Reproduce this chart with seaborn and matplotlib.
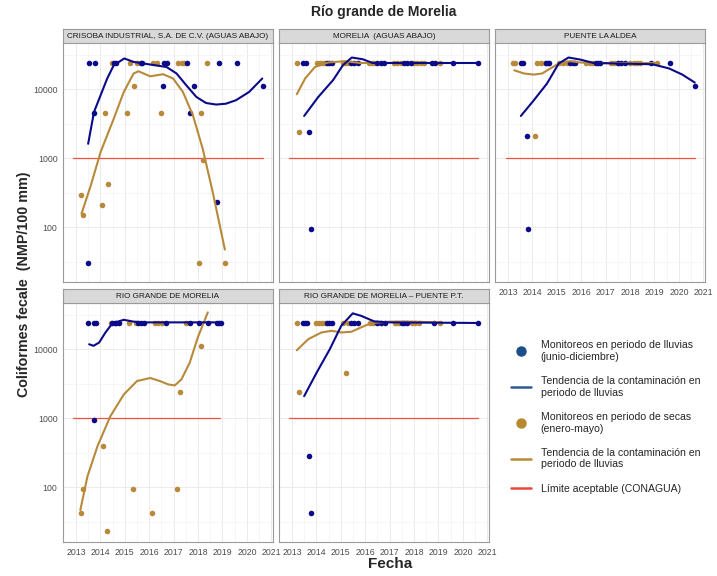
import matplotlib.pyplot as plt
import seaborn as sns
from matplotlib.lines import Line2D
from matplotlib.ticker import FixedLocator, NullFormatter

# station names (facet strips)
estaciones = [
    "CRISOBA INDUSTRIAL, S.A. DE C.V. (AGUAS ABAJO)",
    "MORELIA  (AGUAS ABAJO)",
    "PUENTE LA ALDEA",
    "RIO GRANDE DE MORELIA",
    "RIO GRANDE DE MORELIA – PUENTE P.T.",
]

# --- CRISOBA ---
crisoba_lluvias_fecha = [2013.50, 2013.54, 2013.72, 2013.78, 2014.55, 2014.62, 2015.65, 2015.72,
                         2016.57, 2016.62, 2016.73, 2017.55, 2017.66, 2017.82, 2018.78, 2018.87,
                         2019.61, 2020.65]
crisoba_lluvias_valor = [30, 24000, 4600, 24000, 24000, 24000, 24000, 24000,
                         11000, 24000, 24000, 24000, 4600, 11000, 230, 24000,
                         24000, 11000]
crisoba_secas_fecha = [2013.20, 2013.28, 2014.08, 2014.17, 2014.32, 2014.46, 2015.09, 2015.20,
                       2015.36, 2015.52, 2016.17, 2016.30, 2016.48, 2017.18, 2017.33, 2017.41,
                       2018.03, 2018.13, 2018.22, 2018.37, 2019.10]
crisoba_secas_valor = [290, 150, 210, 4600, 430, 24000, 4600, 24000,
                       11000, 24000, 24000, 24000, 4600, 24000, 24000, 24000,
                       30, 4600, 930, 24000, 30]
crisoba_tend_lluvias_fecha = [2013.50, 2013.74, 2014.01, 2014.28, 2014.55, 2014.98, 2015.36, 2016.04,
                              2016.71, 2017.12, 2017.52, 2017.93, 2018.33, 2018.74, 2019.14, 2019.55,
                              2020.09, 2020.63]
crisoba_tend_lluvias_valor = [1620, 4680, 8180, 14300, 22300, 27900, 24900, 22800,
                              21000, 16900, 11400, 7740, 6310, 6000, 6170, 6920,
                              9120, 14300]
crisoba_tend_secas_fecha = [2013.23, 2013.61, 2014.01, 2014.55, 2014.96, 2015.36, 2015.56, 2016.04,
                            2016.57, 2016.98, 2017.38, 2017.79, 2018.19, 2018.60, 2019.10]
crisoba_tend_secas_valor = [158, 406, 1230, 3760, 9140, 16900, 18200, 15400,
                            16500, 14300, 9140, 4200, 1380, 325, 47.5]

# --- MORELIA (AGUAS ABAJO) ---
morelia_lluvias_fecha = [2013.47, 2013.56, 2013.70, 2013.77, 2014.42, 2014.51, 2014.62, 2015.43,
                         2015.56, 2015.70, 2016.50, 2016.63, 2016.77, 2017.59, 2017.72, 2017.86,
                         2018.73, 2018.86, 2019.61, 2020.62]
morelia_lluvias_valor = [24000, 24000, 2400, 93, 24000, 24000, 24000, 24000,
                         24000, 24000, 24000, 24000, 24000, 24000, 24000, 24000,
                         24000, 24000, 24000, 24000]
morelia_secas_fecha = [2013.20, 2013.27, 2014.01, 2014.15, 2014.28, 2014.35, 2015.09, 2015.18,
                       2015.29, 2016.17, 2016.26, 2016.36, 2017.18, 2017.31, 2017.45, 2017.99,
                       2018.13, 2018.27, 2018.40, 2019.07]
morelia_secas_valor = [24000, 2400, 24000, 24000, 24000, 24000, 24000, 24000,
                       24000, 24000, 24000, 24000, 24000, 24000, 24000, 24000,
                       24000, 24000, 24000, 24000]
morelia_tend_lluvias_fecha = [2013.50, 2014.08, 2014.68, 2015.09, 2015.45, 2015.90, 2016.30, 2017.50,
                              2019.00, 2020.62]
morelia_tend_lluvias_valor = [4100, 7740, 13500, 22300, 28800, 27200, 24000, 24000, 24000, 24000]
morelia_tend_secas_fecha = [2013.20, 2013.54, 2013.94, 2014.48, 2015.16, 2015.80, 2019.07]
morelia_tend_secas_valor = [8470, 14300, 21000, 24400, 25500, 24000, 24000]

# --- PUENTE LA ALDEA ---
aldea_lluvias_fecha = [2013.53, 2013.60, 2013.76, 2013.82, 2014.54, 2014.62, 2014.70, 2015.55,
                       2015.65, 2015.75, 2016.60, 2016.68, 2016.75, 2017.50, 2017.65, 2017.80,
                       2018.85, 2019.64, 2020.68]
aldea_lluvias_valor = [24000, 24000, 2100, 93, 24000, 24000, 24000, 24000,
                       24000, 24000, 24000, 24000, 24000, 24000, 24000, 24000,
                       24000, 24000, 11000]
aldea_secas_fecha = [2013.20, 2013.30, 2014.10, 2014.20, 2014.35, 2014.50, 2015.10, 2015.25,
                     2015.40, 2016.20, 2016.35, 2016.50, 2017.20, 2017.35, 2017.50, 2018.00,
                     2018.15, 2018.30, 2018.40, 2019.10]
aldea_secas_valor = [24000, 24000, 2100, 24000, 24000, 24000, 24000, 24000,
                     24000, 24000, 24000, 24000, 24000, 24000, 24000, 24000,
                     24000, 24000, 24000, 24000]
aldea_tend_lluvias_fecha = [2013.53, 2014.06, 2014.60, 2015.08, 2015.48, 2015.96, 2016.50, 2018.92,
                            2019.60, 2020.14, 2020.65]
aldea_tend_lluvias_valor = [4100, 6920, 12100, 23600, 28800, 26900, 24000, 23000,
                            20000, 16300, 12500]
aldea_tend_secas_fecha = [2013.26, 2013.66, 2014.06, 2014.40, 2014.74, 2015.15, 2015.55, 2015.96,
                          2016.50, 2019.10]
aldea_tend_secas_valor = [18800, 16900, 16300, 16900, 20000, 24400, 25500, 24400, 24000, 24000]

# --- RIO GRANDE DE MORELIA ---
rio_lluvias_fecha = [2013.51, 2013.72, 2013.74, 2013.82, 2014.49, 2014.58, 2014.66, 2014.75,
                     2015.56, 2015.65, 2015.77, 2016.68, 2017.68, 2018.05, 2018.39, 2018.79,
                     2018.86, 2018.94]
rio_lluvias_valor = [24000, 930, 24000, 24000, 24000, 24000, 24000, 24000,
                     24000, 24000, 24000, 24000, 24000, 24000, 24000, 24000,
                     24000, 24000]
rio_secas_fecha = [2013.20, 2013.27, 2014.10, 2014.28, 2014.42, 2015.16, 2015.32, 2015.47,
                   2016.10, 2016.24, 2016.38, 2016.51, 2017.12, 2017.25, 2017.49, 2018.13]
rio_secas_valor = [43, 93, 390, 23, 24000, 24000, 93, 24000,
                   43, 24000, 24000, 24000, 93, 2400, 24000, 11000]
rio_tend_lluvias_fecha = [2013.54, 2013.72, 2013.95, 2014.21, 2014.49, 2014.96, 2015.36, 2015.77,
                          2018.94]
rio_tend_lluvias_valor = [11800, 11200, 12500, 17500, 23700, 26700, 25100, 24500, 24500]
rio_tend_secas_fecha = [2013.18, 2013.47, 2013.88, 2014.41, 2014.96, 2015.50, 2016.04, 2016.44,
                        2016.78, 2017.05, 2017.32, 2017.66, 2017.99, 2018.40]
rio_tend_secas_valor = [46.9, 143, 392, 1070, 2210, 3460, 3830, 3460,
                        3090, 2990, 3660, 6400, 14800, 34200]

# --- RIO GRANDE DE MORELIA - PUENTE P.T. ---
ptt_lluvias_fecha = [2013.47, 2013.55, 2013.60, 2013.70, 2013.77, 2014.42, 2014.52, 2014.62,
                     2015.43, 2015.55, 2015.70, 2016.50, 2016.65, 2016.80, 2017.50, 2017.60,
                     2017.70, 2018.80, 2019.60, 2020.62]
ptt_lluvias_valor = [24000, 24000, 24000, 280, 43, 24000, 24000, 24000,
                     24000, 24000, 24000, 24000, 24000, 24000, 24000, 24000,
                     24000, 24000, 24000, 24000]
ptt_secas_fecha = [2013.20, 2013.27, 2014.00, 2014.12, 2014.24, 2014.35, 2015.09, 2015.20,
                   2015.30, 2016.20, 2016.30, 2017.20, 2017.30, 2017.40, 2017.90, 2018.05,
                   2018.20, 2019.07]
ptt_secas_valor = [24000, 2400, 24000, 24000, 24000, 24000, 24000, 4600,
                   24000, 24000, 24000, 24000, 24000, 24000, 24000, 24000,
                   24000, 24000]
ptt_tend_lluvias_fecha = [2013.50, 2014.01, 2014.55, 2015.02, 2015.49, 2015.83, 2016.37, 2016.98,
                          2020.62]
ptt_tend_lluvias_valor = [2090, 4570, 10000, 21900, 33100, 30500, 25300, 24500, 24000]
ptt_tend_secas_fecha = [2013.20, 2013.67, 2014.21, 2014.62, 2015.02, 2015.43, 2015.83, 2016.24,
                        2016.98, 2017.90, 2019.07]
ptt_tend_secas_valor = [9660, 14000, 17500, 18500, 17500, 17900, 20700, 23900,
                        25100, 25100, 24500]

# CONAGUA limit and its span per station
limite = 1000
limite_inicio = [2012.88, 2012.86, 2012.92, 2012.87, 2012.86]
limite_fin = [2020.64, 2020.62, 2020.68, 2018.90, 2020.62]

anios = list(range(2013, 2022))

AZUL = "#0B0B8A"
CAFE = "#B8893A"
ROJO = "#F0503F"
BORDE = "#9A9A9A"

sns.set_style("white")
plt.rcParams["font.family"] = ["Liberation Sans", "DejaVu Sans"]

fig = plt.figure(figsize=(7.17, 5.76), dpi=100)
W, H = 717, 576

# panel positions in pixels: (left, top of plot area)
cols = [63, 279, 495]
rows = [42.5, 302.5]
pw, ph, sh = 210, 239.5, 14

paneles = [
    (crisoba_lluvias_fecha, crisoba_lluvias_valor, crisoba_secas_fecha, crisoba_secas_valor,
     crisoba_tend_lluvias_fecha, crisoba_tend_lluvias_valor, crisoba_tend_secas_fecha, crisoba_tend_secas_valor),
    (morelia_lluvias_fecha, morelia_lluvias_valor, morelia_secas_fecha, morelia_secas_valor,
     morelia_tend_lluvias_fecha, morelia_tend_lluvias_valor, morelia_tend_secas_fecha, morelia_tend_secas_valor),
    (aldea_lluvias_fecha, aldea_lluvias_valor, aldea_secas_fecha, aldea_secas_valor,
     aldea_tend_lluvias_fecha, aldea_tend_lluvias_valor, aldea_tend_secas_fecha, aldea_tend_secas_valor),
    (rio_lluvias_fecha, rio_lluvias_valor, rio_secas_fecha, rio_secas_valor,
     rio_tend_lluvias_fecha, rio_tend_lluvias_valor, rio_tend_secas_fecha, rio_tend_secas_valor),
    (ptt_lluvias_fecha, ptt_lluvias_valor, ptt_secas_fecha, ptt_secas_valor,
     ptt_tend_lluvias_fecha, ptt_tend_lluvias_valor, ptt_tend_secas_fecha, ptt_tend_secas_valor),
]

for i, (nombre, datos) in enumerate(zip(estaciones, paneles)):
    r, c = divmod(i, 3)
    x0, y0 = cols[c], rows[r]
    ax = fig.add_axes([x0 / W, 1 - (y0 + ph) / H, pw / W, ph / H])
    ll_f, ll_v, se_f, se_v, tl_f, tl_v, ts_f, ts_v = datos

    sns.lineplot(x=[limite_inicio[i], limite_fin[i]], y=[limite, limite], color=ROJO,
                 lw=0.9, ax=ax, estimator=None)
    sns.scatterplot(x=se_f, y=se_v, color=CAFE, s=16, linewidth=0, ax=ax, zorder=3)
    sns.scatterplot(x=ll_f, y=ll_v, color=AZUL, s=16, linewidth=0, ax=ax, zorder=3)
    sns.lineplot(x=ts_f, y=ts_v, color=CAFE, lw=1.5, ax=ax, estimator=None, zorder=4)
    sns.lineplot(x=tl_f, y=tl_v, color=AZUL, lw=1.5, ax=ax, estimator=None, zorder=4)

    ax.set_yscale("log")
    ax.set_ylim(10 ** 1.207, 10 ** 4.677)
    ax.set_xlim(2012.47, 2021.07)
    ax.set_yticks([100, 1000, 10000])
    ax.set_yticklabels(["100", "1000", "10000"])
    ax.yaxis.set_minor_locator(FixedLocator([10 ** 1.5, 10 ** 2.5, 10 ** 3.5, 10 ** 4.5]))
    ax.yaxis.set_minor_formatter(NullFormatter())
    ax.set_xticks(anios)
    ax.set_xticklabels([str(a) for a in anios])
    ax.xaxis.set_minor_locator(FixedLocator([a + 0.5 for a in anios[:-1]]))
    ax.set_xlabel("")
    ax.set_ylabel("")
    ax.set_axisbelow(True)
    ax.grid(which="major", color="#EBEBEB", lw=0.7)
    ax.grid(which="minor", color="#F3F3F3", lw=0.5)
    for s in ax.spines.values():
        s.set_color(BORDE)
        s.set_linewidth(0.8)
    ax.tick_params(which="major", length=2.5, width=0.5, color="#555555",
                   labelsize=6.3, labelcolor="#4D4D4D", pad=1.5)
    ax.tick_params(which="minor", length=0)
    if c != 0:
        ax.tick_params(axis="y", which="major", length=0, labelleft=False)
    if r == 0 and c != 2:
        ax.tick_params(axis="x", which="major", length=0, labelbottom=False)

    # facet strip
    st = fig.add_axes([x0 / W, 1 - y0 / H, pw / W, sh / H])
    st.set_facecolor("#D9D9D9")
    st.set_xticks([])
    st.set_yticks([])
    for s in st.spines.values():
        s.set_color(BORDE)
        s.set_linewidth(0.8)
    st.text(0.5, 0.45, nombre, ha="center", va="center", fontsize=5.9, color="#1A1A1A",
            transform=st.transAxes)

fig.text(384 / W, 1 - 12 / H, "Río grande de Morelia", ha="center", va="center",
         fontsize=10, fontweight="bold")
fig.text(390 / W, 1 - 564 / H, "Fecha", ha="center", va="center",
         fontsize=11, fontweight="bold")
fig.text(24 / W, 1 - 284 / H, "Coliformes fecale  (NMP/100 mm)", ha="center", va="center",
         rotation=90, fontsize=10.3, fontweight="bold")

handles = [
    Line2D([], [], ls="none", marker="o", ms=6.5, color="#1D4E89"),
    Line2D([], [], color="#2F5A96", lw=1.8),
    Line2D([], [], ls="none", marker="o", ms=6.5, color="#B8892F"),
    Line2D([], [], color="#B8893A", lw=1.8),
    Line2D([], [], color="#E8483A", lw=1.8),
]
labels = [
    "Monitoreos en periodo de lluvias\n(junio-diciembre)",
    "Tendencia de la contaminación en\nperiodo de lluvias",
    "Monitoreos en periodo de secas\n(enero-mayo)",
    "Tendencia de la contaminación en\nperiodo de lluvias",
    "Límite aceptable (CONAGUA)",
]
fig.legend(handles, labels, loc="upper left", bbox_to_anchor=(507 / W, 1 - 336 / H),
           frameon=False, fontsize=7.6, handlelength=1.9, handletextpad=0.9,
           labelspacing=1.35, borderaxespad=0)

fig.savefig("out.png", dpi=100)
